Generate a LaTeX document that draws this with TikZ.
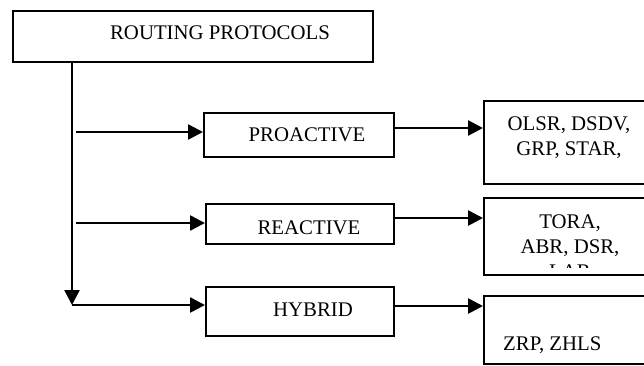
\documentclass[tikz,border=0pt]{standalone}
\usepackage{fontspec}
\setmainfont{Liberation Serif}
\usetikzlibrary{arrows.meta}
\begin{document}
\begin{tikzpicture}[x=1pt,y=-1pt,
  box/.style={draw, line width=1.9pt, rectangle, inner sep=0pt, anchor=north west},
  lbl/.style={font=\fontsize{20.8}{25}\selectfont, inner sep=0pt, align=center, anchor=base},
  link/.style={line width=2.6pt, -{Triangle[length=15pt,width=15pt]}}]
\useasboundingbox (0,0) rectangle (644,365);
\clip (0,0) rectangle (644,365);

% boxes
\node[box, minimum width=360pt, minimum height=51pt] (root) at (12,10) {};
\node[box, minimum width=190pt, minimum height=44pt] (pro) at (203,112) {};
\node[box, minimum width=188pt, minimum height=40pt] (rea) at (205,203) {};
\node[box, minimum width=188pt, minimum height=49pt] (hyb) at (205,286) {};
\node[box, minimum width=180pt, minimum height=83pt] (olsr) at (483,100) {};
\node[box, minimum width=180pt, minimum height=77pt] (tora) at (483,197) {};
\node[box, minimum width=180pt, minimum height=68pt] (zrp) at (483,295) {};

% labels (multi-line labels are placed by the baseline of their last line)
\node[lbl] (troot) at (220,39) {ROUTING PROTOCOLS};
\node[lbl] (tpro) at (307,141) {PROACTIVE};
\node[lbl] (trea) at (309,234) {REACTIVE};
\node[lbl] (thyb) at (313,316) {HYBRID};
\node[lbl] (tolsr) at (569,155) {OLSR, DSDV,\\GRP, STAR,};
\begin{scope}
  \clip (483,197) rectangle (663,267);
  \node[lbl] (ttora) at (570,278) {TORA,\\ABR, DSR,\\LAR};
\end{scope}
\node[lbl, anchor=base west] (tzrp) at (503,350) {ZRP, ZHLS};

% connectors
\coordinate (corner) at (72,305);
\coordinate (lp) at (76,132);
\coordinate (lr) at (76,223);
\coordinate (rp) at (0,128);
\coordinate (rr) at (0,218);
\coordinate (rh) at (0,306);
\draw[link] (root.south -| corner) -- (corner);
\draw[link] (lp) -- (lp -| pro.west);
\draw[link] (lr) -- (lr -| rea.west);
\draw[link] (corner) -- (corner -| hyb.west);
\draw[link] (pro.east |- rp) -- (olsr.west |- rp);
\draw[link] (rea.east |- rr) -- (tora.west |- rr);
\draw[link] (hyb.east |- rh) -- (zrp.west |- rh);
\end{tikzpicture}
\end{document}
